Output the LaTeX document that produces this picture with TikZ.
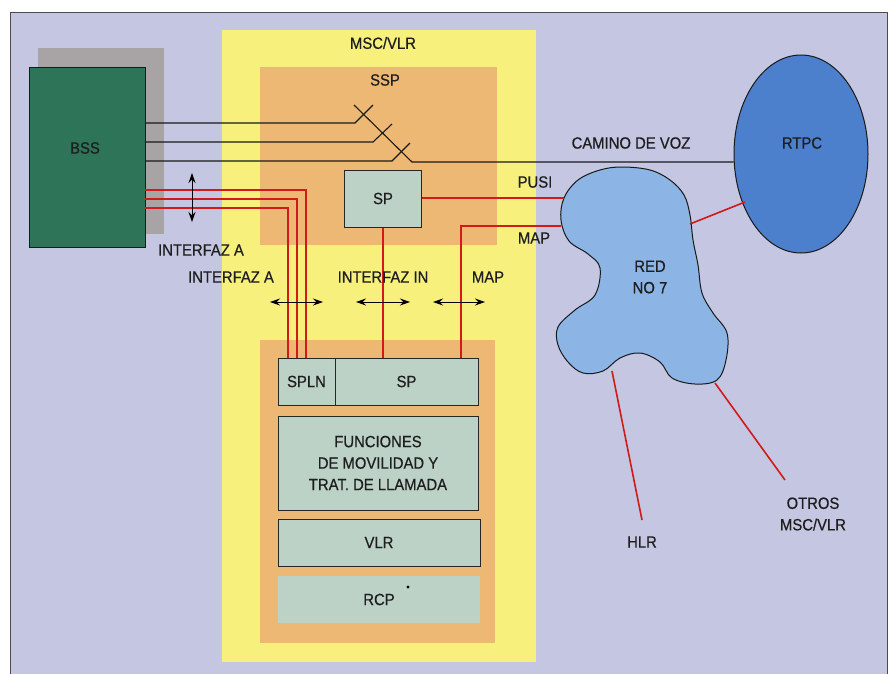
\documentclass[tikz,border=0pt]{standalone}
\usepackage{fontspec}
\setmainfont{Liberation Sans}
\newfontfamily\narrowsans[FakeStretch=0.91,FakeBold=0.5]{Liberation Sans}
\usetikzlibrary{arrows.meta,shapes.geometric}
\definecolor{bgl}{HTML}{C4C6E2}
\definecolor{yel}{HTML}{F7F07C}
\definecolor{orn}{HTML}{EDB874}
\definecolor{boxc}{HTML}{BCD2C6}
\definecolor{bssg}{HTML}{2D7458}
\definecolor{shad}{HTML}{A8A3A5}
\definecolor{rtpc}{HTML}{4C80CC}
\definecolor{blob}{HTML}{8CB5E6}
\definecolor{redl}{HTML}{D21A1A}
\definecolor{txt}{HTML}{1E1E1E}
\tikzset{
  lbl/.style={text=txt,font=\narrowsans\fontsize{16.3}{21.5}\selectfont,inner sep=0pt,align=center},
  box/.style={draw=black!85,line width=1pt,fill=boxc,lbl,inner sep=0pt},
  blk/.style={draw=black!90,line width=1.1pt},
  rl/.style={draw=redl,line width=1.6pt},
  dbl/.style={draw=black,line width=1pt,{Stealth[length=10pt,width=7pt]}-{Stealth[length=10pt,width=7pt]}}
}
\begin{document}
\begin{tikzpicture}[x=1pt,y=-1pt]
\useasboundingbox (0,0) rectangle (895,673);
\fill[white] (0,0) rectangle (895,673);
% background frame
\fill[bgl,draw=black!70,line width=0.8pt] (10,12) rectangle (887,680);
% MSC/VLR panel
\fill[yel] (222,30) rectangle (536,662);
\fill[orn] (260,67) rectangle (497,245);
\fill[orn] (260,340) rectangle (495,643);
\node[lbl] (msc) at (383,43) {MSC/VLR};
\node[lbl] (ssp) at (385,80) {SSP};
% BSS
\fill[shad] (38,48) rectangle (164,234);
\node[draw=black!90,line width=1pt,fill=bssg,minimum width=116pt,minimum height=180pt,inner sep=0pt] (bss) at (87,157) {};
\node[lbl] (bsslbl) at (85,148) {BSS};
% RTPC
\node[ellipse,draw=black!90,line width=1pt,fill=rtpc,minimum width=134pt,minimum height=198pt,inner sep=0pt] (rtpc) at (801,154) {};
\node[lbl] (rtpclbl) at (802,143) {RTPC};
% Red NO 7 blob
\draw[fill=blob,draw=black!90,line width=1pt] plot[smooth cycle,tension=0.6] coordinates {
 (622,167) (650,170) (670,180) (684,195) (690,215) (693,240) (698,265) (702,293) (713,313) (727,333) (726,360) (717,380) (695,384) (672,378) (660,362) (640,353) (620,358) (603,371) (583,373) (568,362) (558,345) (558,327) (575,310) (595,295) (600,268) (588,254) (569,241) (561,220) (564,198) (578,180) (600,170)};
\node[lbl] (red) at (650,277) {RED\\NO 7};
\coordinate (blobpusi) at (564,198);
\coordinate (blobmap) at (561,226);
\coordinate (blobrt) at (690,224);
\coordinate (blobhlr) at (612,371);
\coordinate (blobotr) at (715,383);
% upper SP
\node[box,minimum width=77pt,minimum height=57pt] (spu) at (383,198.5) {SP};
% lower boxes
\node[box,minimum width=57pt,minimum height=47pt] (spln) at (306.5,381.5) {SPLN};
\node[box,minimum width=143pt,minimum height=47pt] (spl) at (406.5,381.5) {SP};
\node[box,minimum width=200pt,minimum height=94pt] (func) at (378,463) {FUNCIONES\\DE MOVILIDAD Y\\TRAT. DE LLAMADA};
\node[box,minimum width=202pt,minimum height=47pt] (vlr) at (379,542.5) {VLR};
\node[box,draw=none,minimum width=202pt,minimum height=47pt] (rcp) at (379,599.5) {RCP};
\fill[black] (408,587) circle (1.6pt);
% voice path with switch
\coordinate (b1) at (145,123); \coordinate (b2) at (145,142); \coordinate (b3) at (145,161);
\coordinate (s1) at (355,123); \coordinate (s2) at (373,142); \coordinate (s3) at (392,161);
\coordinate (t1) at (373,105); \coordinate (t2) at (392,124); \coordinate (t3) at (410,143);
\coordinate (d0) at (354,105); \coordinate (d1) at (412,162);
\draw[blk] (b1) -- (s1) -- (t1);
\draw[blk] (b2) -- (s2) -- (t2);
\draw[blk] (b3) -- (s3) -- (t3);
\draw[blk] (d0) -- (d1) -- (rtpc.west |- d1);
\node[lbl] (voz) at (631,143) {CAMINO DE VOZ};
% red lines BSS -> SPLN
\coordinate (r1) at (145,190); \coordinate (r2) at (145,199); \coordinate (r3) at (145,208);
\draw[rl] (r1) -- (306,190) -- (306,358);
\draw[rl] (r2) -- (297,199) -- (297,358);
\draw[rl] (r3) -- (288,208) -- (288,358);
% SP to SP lower
\draw[rl] (spu.south) -- (spu.south |- spl.north);
% PUSI
\draw[rl] (spu.east |- blobpusi) -- (blobpusi);
\node[lbl] (pusi) at (535,182) {PUSI};
% MAP
\draw[rl] (blobmap) -- (461,226) -- (461,358);
\node[lbl] (map1) at (534,238) {MAP};
% blob to RTPC
\coordinate (rtin) at (745,202);
\draw[rl] (blobrt) -- (rtin);
% HLR and others
\coordinate (hlrend) at (642,520);
\coordinate (otrend) at (785,480);
\draw[rl] (blobhlr) -- (hlrend);
\draw[rl] (blobotr) -- (otrend);
\node[lbl] (hlr) at (642,542) {HLR};
\node[lbl] (otros) at (813,514) {OTROS\\MSC/VLR};
% interface arrows
\coordinate (va) at (192,173); \coordinate (vb) at (192,222);
\draw[dbl] (va) -- (vb);
\node[lbl] (ia1) at (201,250) {INTERFAZ A};
\node[lbl] (ia2) at (231,277) {INTERFAZ A};
\node[lbl] (iin) at (383,277) {INTERFAZ IN};
\node[lbl] (map2) at (488,277) {MAP};
\coordinate (h1a) at (270,302); \coordinate (h1b) at (323,302);
\coordinate (h2a) at (356,302); \coordinate (h2b) at (410,302);
\coordinate (h3a) at (433,302); \coordinate (h3b) at (485,302);
\draw[dbl] (h1a) -- (h1b);
\draw[dbl] (h2a) -- (h2b);
\draw[dbl] (h3a) -- (h3b);
\end{tikzpicture}
\end{document}
